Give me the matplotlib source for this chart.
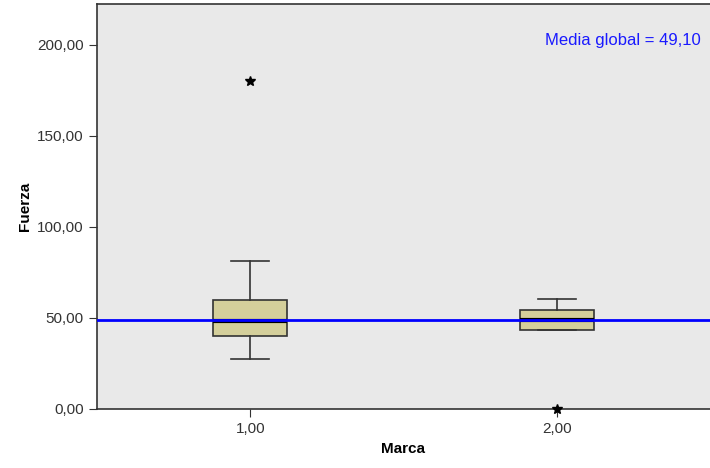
import matplotlib.pyplot as plt

plt.rcParams['font.family'] = ['Liberation Sans', 'DejaVu Sans']

# Values
marcas = [1, 2]
tick_labels = ['1,00', '2,00']
whislo = [27.7, 43.2]
q1 = [40.2, 43.5]
med = [48.3, 49.0]
q3 = [59.7, 54.5]
whishi = [81.5, 60.4]
extremos = [[180.0], [0.0]]
media_global = 49.10

stats = []
for i in range(len(marcas)):
    stats.append({'whislo': whislo[i], 'q1': q1[i], 'med': med[i], 'q3': q3[i],
                  'whishi': whishi[i], 'fliers': []})

fig = plt.figure(figsize=(7.1, 4.68), dpi=100)
ax = fig.add_axes([97 / 710, 59 / 468, 613 / 710, 405 / 468])
ax.set_facecolor('#e9e9e9')

ax.bxp(stats, positions=marcas, widths=0.24, patch_artist=True, showfliers=False,
       boxprops=dict(facecolor='#d4cf9b', edgecolor='#333333', linewidth=1.2),
       medianprops=dict(color='black', linewidth=3),
       whiskerprops=dict(color='#333333', linewidth=1.2),
       capprops=dict(color='#333333', linewidth=1.2),
       capwidths=0.124)

for x, vals in zip(marcas, extremos):
    ax.plot([x] * len(vals), vals, linestyle='none', marker='*', color='black',
            markersize=7, clip_on=False, zorder=5)

ax.axhline(media_global, color='#0000ff', linewidth=2, zorder=4)
ax.text(0.985, 0.91, 'Media global = ' + f'{media_global:.2f}'.replace('.', ','),
        transform=ax.transAxes, ha='right', va='center', color='#1a1aff', fontsize=12)

ax.set_xlim(0.5, 2.5)
ax.set_ylim(0, 222.5)
ax.set_xticks(marcas)
ax.set_xticklabels(tick_labels)
yt = [0, 50, 100, 150, 200]
ax.set_yticks(yt)
ax.set_yticklabels([f'{v:.2f}'.replace('.', ',') for v in yt])
ax.tick_params(colors='#333333', labelsize=11, length=6, labelcolor='#333333')
for side in ['left', 'bottom', 'top']:
    ax.spines[side].set_color('#333333')
    ax.spines[side].set_linewidth(1.2)
ax.spines['right'].set_visible(False)

ax.set_xlabel('Marca', fontweight='bold', fontsize=11)
ax.set_ylabel('Fuerza', fontweight='bold', fontsize=11)

fig.savefig('out.png', dpi=100)
